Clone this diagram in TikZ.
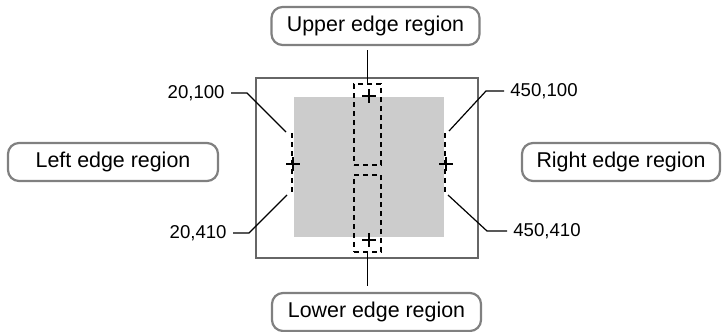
\documentclass[tikz,border=0pt]{standalone}
\usepackage{fontspec}
\setmainfont{Liberation Sans}
\begin{document}
\begin{tikzpicture}[x=0.5pt, y=-0.5pt,
    region/.style={draw=black!50, line width=1.1pt, rounded corners=5.5pt,
      minimum width=104pt, minimum height=19pt, inner sep=0pt,
      font=\fontsize{10.7}{13}\selectfont},
    coordlabel/.style={inner sep=3pt, font=\fontsize{9.3}{11}\selectfont},
    zone/.style={draw, dash pattern=on 2.5pt off 2pt, line width=0.7pt,
      minimum width=13.5pt, inner sep=0pt},
    leader/.style={draw, line width=0.6pt},
    crossmark/.style={line width=1.4pt}]
    \useasboundingbox (0,0) rectangle (723,332);

    % Bild und Graufläche
    \draw[draw=black!60, line width=0.8pt] (256,78) rectangle (478,258);
    \fill[black!20] (294,97) rectangle (444,237);

    % Randbereiche (gestrichelt)
    \node[zone, minimum height=40.5pt] (upzone) at (367.5,124.5) {};
    \node[zone, minimum height=38.5pt] (lowzone) at (367.5,213.5) {};
    \coordinate (ltop) at (292,133);
    \coordinate (lbot) at (292,193);
    \coordinate (rtop) at (445,133);
    \coordinate (rbot) at (445,193);
    \draw[dash pattern=on 2.5pt off 2pt, line width=0.7pt] (ltop) -- (lbot);
    \draw[dash pattern=on 2.5pt off 2pt, line width=0.7pt] (rtop) -- (rbot);

    % Mittelpunkte
    \foreach \px/\py in {293/164, 446/164, 369/96, 369/240}
      \draw[crossmark] (\px-7,\py) -- (\px+7,\py) (\px,\py-7) -- (\px,\py+7);

    % Beschriftungen der Bereiche
    \node[region] (upbox) at (375.5,26) {Upper edge region};
    \node[region, minimum width=104.5pt] (lowbox) at (376.5,312) {Lower edge region};
    \node[region, minimum width=105pt] (leftbox) at (113,162) {Left edge region};
    \node[region, minimum width=99pt] (rightbox) at (621,162) {Right edge region};

    \draw[line width=0.6pt, shorten <=2pt] (upbox.south -| upzone.north) -- (upzone.north);
    \draw[line width=0.6pt, shorten <=3pt] (lowbox.north -| lowzone.south) -- (lowzone.south);

    % Koordinaten
    \node[coordlabel, anchor=east] (c1) at (231,93) {20,100};
    \node[coordlabel, anchor=east] (c2) at (233,233) {20,410};
    \node[coordlabel, anchor=west] (c3) at (504,91) {450,100};
    \node[coordlabel, anchor=west] (c4) at (507,231) {450,410};

    \coordinate (t1) at (286,132);
    \coordinate (t2) at (287,195);
    \coordinate (t3) at (449,131);
    \coordinate (t4) at (448,195);

    \draw[leader] (c1.east) -- ++(16,0) -- (t1);
    \draw[leader] (c2.east) -- ++(16,0) -- (t2);
    \draw[leader] (c3.west) -- ++(-18,0) -- (t3);
    \draw[leader] (c4.west) -- ++(-20,0) -- (t4);
\end{tikzpicture}
\end{document}
